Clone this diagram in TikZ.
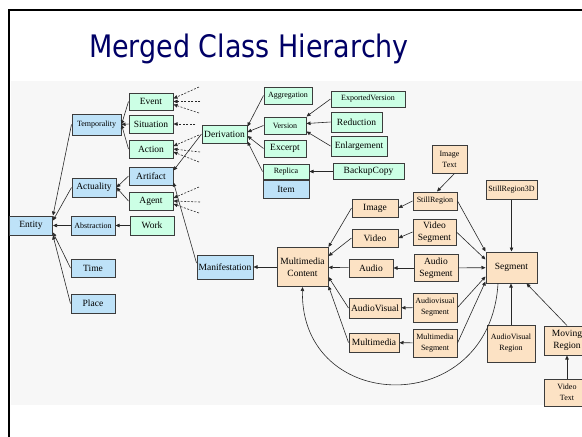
\documentclass[tikz,border=0pt]{standalone}
\usepackage{fontspec}
\setmainfont{Liberation Serif}
\newfontfamily\titlefont{DejaVu Sans}[FakeStretch=0.87]
\usetikzlibrary{positioning}
\usetikzlibrary{arrows.meta}
\definecolor{mint}{RGB}{204,255,229}
\definecolor{sky}{RGB}{190,226,248}
\definecolor{peach}{RGB}{252,226,196}
\definecolor{boxline}{RGB}{60,60,60}
\definecolor{edgeline}{RGB}{40,40,40}
\definecolor{slidebg}{RGB}{247,247,247}
\definecolor{navy}{RGB}{0,0,102}

\begin{document}
\begin{tikzpicture}[x=1pt, y=-1pt,
         cls/.style = {draw=boxline, line width=1pt, inner sep=0pt,
         align=center, font=\fontsize{9.5}{12}\selectfont},
         smalltxt/.style = {font=\fontsize{8}{11}\selectfont},
         onto/.style = {cls, fill=mint},
         core/.style = {cls, fill=sky},
         media/.style = {cls, fill=peach},
         sz/.style 2 args = {minimum width=#1pt, minimum height=#2pt},
         isa/.style = {draw=edgeline, line width=0.6pt,
         -{Triangle[length=4pt,width=3.5pt]}},
         link/.style = {isa, dash pattern=on 2pt off 1.5pt}]

   % slide
   \useasboundingbox (0,0) rectangle (582,437);
   \fill[white] (0,0) rectangle (582,437);
   \fill[slidebg] (11,81) rectangle (582,405);
   \draw[line width=2.2pt] (9,437) -- (9,10) -- (582,10);
   \node[anchor=base, text=navy, font=\titlefont\fontsize{31}{31}\selectfont]
      (title) at (249,57) {Merged Class Hierarchy};

   % top level classes
   \node[core, sz={43}{19}]           (ent)  at (31,225.5)  {Entity};
   \node[core, smalltxt, sz={49}{21}] (temp) at (96.5,124.5) {Temporality};
   \node[core, sz={44}{19}]           (act)  at (94,187.5)  {Actuality};
   \node[core, smalltxt, sz={44}{19}] (abs)  at (93,225.5)  {Abstraction};
   \node[core, sz={44}{18}]           (tim)  at (93,268)    {Time};
   \node[core, sz={44}{19}]           (plc)  at (93,303.5)  {Place};

   \node[onto, sz={44}{17}] (ev)   at (151,101.5) {Event};
   \node[onto, sz={44}{18}] (sit)  at (151,124)   {Situation};
   \node[onto, sz={44}{18}] (actn) at (151,149)   {Action};
   \node[core, sz={44}{18}] (art)  at (151,176)   {Artifact};
   \node[onto, sz={44}{18}] (agt)  at (151,201)   {Agent};
   \node[onto, sz={44}{19}, right=14pt of abs] (wrk) {Work};

   % derivations
   \node[onto, sz={45}{18}]           (der) at (224.5,134) {Derivation};
   \node[onto, smalltxt, sz={48}{17}] (agg) at (288,95.5)  {Aggregation};
   \node[onto, smalltxt, sz={42}{17}] (ver) at (285,125.5) {Version};
   \node[onto, sz={42}{17}]           (exc) at (285,148.5) {Excerpt};
   \node[onto, smalltxt, sz={46}{15}] (rep) at (286,171.5) {Replica};
   \node[core, sz={46}{18}, below=0pt of rep] (itm) {Item};
   \node[onto, smalltxt, sz={74}{16}] (exv) at (368,99)    {ExportedVersion};
   \node[onto, sz={51}{20}]           (red) at (356.5,122) {Reduction};
   \node[onto, sz={56}{20}]           (enl) at (359,146)   {Enlargement};
   \node[onto, sz={71}{16}, right=23pt of rep] (bck) {BackupCopy};

   % multimedia content
   \node[core, sz={56}{24}] (man) at (225,267) {Manifestation};
   \node[media, sz={51}{39}, right=23pt of man] (mmc) {Multimedia\\Content};
   \node[media, sz={46}{18}] (img)  at (375,208)   {Image};
   \node[media, sz={46}{18}] (vid)  at (375,238)   {Video};
   \node[media, sz={44}{18}] (aud)  at (371,268)   {Audio};
   \node[media, sz={52}{20}] (avis) at (375,308)   {AudioVisual};
   \node[media, sz={50}{19}] (mmed) at (374,342.5) {Multimedia};

   % segments
   \node[media, smalltxt, sz={35}{28}] (imtx)  at (449.5,159) {Image\\Text};
   \node[media, smalltxt, sz={44}{18}] (strg)  at (435,201)   {StillRegion};
   \node[media, sz={43}{26}]           (vseg)  at (434.5,232) {Video\\Segment};
   \node[media, sz={44}{27}, right=20pt of aud] (aseg) {Audio\\Segment};
   \node[media, smalltxt, sz={44}{29}] (avseg) at (435,307.5) {Audiovisual\\Segment};
   \node[media, smalltxt, sz={44}{28}] (mseg)  at (435,343)   {Multimedia\\Segment};
   \node[media, sz={51}{31}]           (seg)   at (511.5,267.5) {Segment};
   \node[media, smalltxt, sz={51}{19}, above=52pt of seg] (sr3d) {StillRegion3D};
   \node[media, smalltxt, sz={48}{37}] (avrg)  at (511,343.5) {AudioVisual\\Region};
   \node[media, sz={46}{29}]           (mvrg)  at (567,340.5) {Moving\\Region};
   \node[media, smalltxt, sz={46}{27}, below=23pt of mvrg] (vtx) {Video\\Text};

   % free ends of the dashed links
   \coordinate (ev1) at (199,87);
   \coordinate (ev2) at (200,101.5);
   \coordinate (ev3) at (199,113);
   \coordinate (sit1) at (195,124);
   \coordinate (actn1) at (199,135);
   \coordinate (actn2) at (200,152);
   \coordinate (actn3) at (199,162);
   \coordinate (agt1) at (199,187);
   \coordinate (agt2) at (200,202);
   \coordinate (agt3) at (199,213);

   % entity tree
   \draw[isa] (temp.west) -- (ent.north east);
   \draw[isa] (act.west) -- ([yshift=-5pt]ent.north east);
   \draw[isa] (abs) -- (ent);
   \draw[isa] (tim.west) -- ([yshift=3pt]ent.south east);
   \draw[isa] (plc.west) -- (ent.south east);
   \draw[isa] (ev.west) -- (temp.east);
   \draw[isa] (sit.west) -- (temp.east);
   \draw[isa] (actn.west) -- (temp.east);
   \draw[isa] (art.west) -- (act.east);
   \draw[isa] (agt.west) -- (act.east);
   \draw[isa] (wrk) -- (abs);

   % dashed links
   \draw[link] (ev1) -- ([yshift=3pt]ev.east);
   \draw[link] (ev2) -- (ev.east);
   \draw[link] (ev3) -- ([yshift=-3pt]ev.east);
   \draw[link] (sit1) -- (sit.east);
   \draw[link] (actn1) -- ([yshift=3pt]actn.east);
   \draw[link] (actn2) -- (actn.east);
   \draw[link] (actn3) -- ([yshift=-3pt]actn.east);
   \draw[link] (agt1) -- ([yshift=3pt]agt.east);
   \draw[link] (agt2) -- (agt.east);
   \draw[link] (agt3) -- ([yshift=-3pt]agt.east);

   % derivation tree
   \draw[isa] (der.west) -- ([yshift=-4pt]art.north east);
   \draw[isa] ([yshift=4pt]man.west) -- ([yshift=3pt]art.south east);
   \draw[isa] (agg.west) -- ([yshift=-2pt]der.north east);
   \draw[isa] (ver.west) -- ([yshift=2pt]der.east);
   \draw[isa] (exc.west) -- ([yshift=-2pt]der.east);
   \draw[isa] (rep.west) -- ([yshift=2pt]der.south east);
   \draw[isa] (exv.west) -- (ver.north east);
   \draw[isa] (red.west) -- ([yshift=2pt]ver.east);
   \draw[isa] (enl.west) -- ([yshift=3pt]ver.south east);
   \draw[isa] (bck) -- (rep);

   % multimedia content tree
   \draw[isa] (mmc) -- (man);
   \draw[isa] (img.west) -- (mmc.north east);
   \draw[isa] (vid.west) -- ([yshift=-9pt]mmc.north east);
   \draw[isa] (aud) -- (mmc);
   \draw[isa] (avis.west) -- ([yshift=-10pt]mmc.east);
   \draw[isa] (mmed.west) -- ([yshift=1pt]mmc.south east);
   \draw[isa] (strg.west) -- (img.east);
   \draw[isa] (vseg.west) -- (vid.east);
   \draw[isa] (aseg) -- (aud);
   \draw[isa] (avseg) -- (avis);
   \draw[isa] (mseg) -- (mmed);

   % segment tree
   \draw[isa] ([xshift=5pt]imtx.south) -- ([xshift=2pt]strg.north);
   \draw[isa] (strg.east) -- (seg.north west);
   \draw[isa] (vseg.east) -- ([yshift=-8pt]seg.north west);
   \draw[isa] (aseg) -- (seg);
   \draw[isa] (avseg.east) -- ([yshift=-9pt]seg.west);
   \draw[isa] (mseg.east) -- ([yshift=2pt]seg.south west);
   \draw[isa] (sr3d) -- (seg);
   \draw[isa] (avrg.north) -- (avrg.north |- seg.south);
   \draw[isa] (mvrg.north) -- ([xshift=-11pt]seg.south east);
   \draw[isa] (vtx) -- (mvrg);
   \draw[isa] ([xshift=-13.5pt]seg.south) .. controls (490,420) and (300,415)
      .. (mmc.south);
\end{tikzpicture}
\end{document}
